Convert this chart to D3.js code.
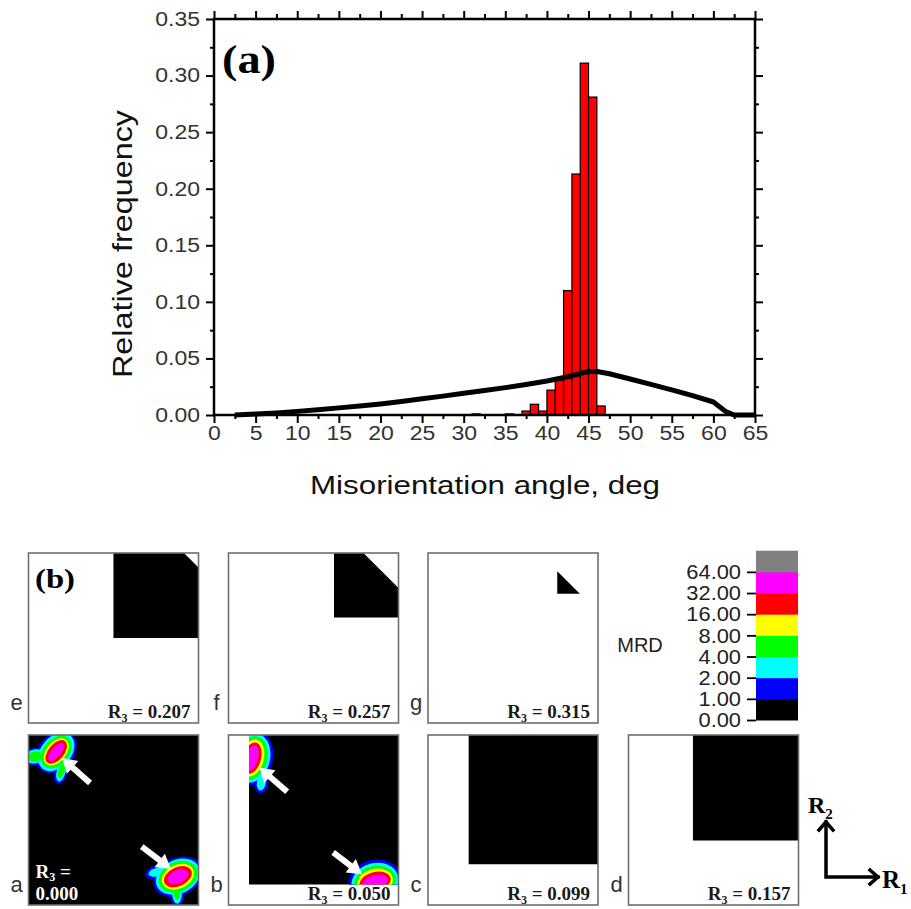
<!DOCTYPE html>
<html lang="en">
<head>
<meta charset="UTF-8">
<title>Misorientation distribution</title>
<script src="https://cdnjs.cloudflare.com/ajax/libs/d3/7.8.5/d3.min.js"></script>
<style>
  body { margin: 0; background: #fff; }
  svg { display: block; }
</style>
</head>
<body>
<svg width="911" height="909"></svg>
<script>
"use strict";

// ---- (a) histogram data
const binStart = [31, 35, 37, 38, 39, 40, 41, 42, 43, 44, 45, 46];
const binFreq = [0.001, 0.001, 0.0035, 0.0095, 0.0035, 0.022, 0.031, 0.110, 0.213, 0.311, 0.281, 0.008];

// random (Mackenzie) curve
const curveAngle = [2.5, 5, 7.5, 10, 12.5, 15, 17.5, 20, 22.5, 25, 27.5, 30, 32.5, 35, 37.5, 40, 42.5, 45, 46, 47.5, 50, 52.5, 55, 57.5, 60, 61.5, 62.5, 65];
const curveFreq = [0, 0.0008, 0.0018, 0.0032, 0.0047, 0.0063, 0.008, 0.0098, 0.012, 0.0143, 0.0167, 0.0192, 0.0216, 0.0242, 0.027, 0.030, 0.0338, 0.0385, 0.0385, 0.0365, 0.0318, 0.027, 0.0222, 0.0172, 0.0115, 0.003, 0, 0];

const xTicks = [0, 5, 10, 15, 20, 25, 30, 35, 40, 45, 50, 55, 60, 65];
const yTicks = [0, 0.05, 0.10, 0.15, 0.20, 0.25, 0.30, 0.35];

// ---- (b) ODF sections
const panelLetters = ["e", "f", "g", "a", "b", "c", "d"];
const panelR3 = [0.207, 0.257, 0.315, 0.000, 0.050, 0.099, 0.157];

const mrdLevels = [0, 1, 2, 4, 8, 16, 32, 64];
const mrdColors = ["#000000", "#0000ff", "#00ffff", "#00ff00", "#ffff00", "#ff0000", "#ff00ff", "#808080"];

// contour patches: semi axes (R units) for MRD levels 1,2,4,8,16,32
const peaks = [
  { panel: "a", r1: 0.0675, r2: 0.373, tilt: 50, major: [0.058, 0.053, 0.045, 0.038, 0.034, 0.027], minor: [0.043, 0.037, 0.031, 0.024, 0.019, 0.012] },
  { panel: "a", r1: 0.080, r2: 0.327, tilt: 75, major: [0.034, 0.027, 0.017], minor: [0.016, 0.011, 0.008] },
  { panel: "a", r1: 0.016, r2: 0.362, tilt: 10, major: [0.030, 0.026, 0.018], minor: [0.021, 0.017, 0.012] },
  { panel: "a", r1: 0.364, r2: 0.069, tilt: 25, major: [0.063, 0.056, 0.049, 0.041, 0.036, 0.027], minor: [0.046, 0.041, 0.036, 0.029, 0.023, 0.016] },
  { panel: "a", r1: 0.362, r2: 0.030, tilt: 90, major: [0.034, 0.027, 0.017], minor: [0.018, 0.012, 0.008] },
  { panel: "a", r1: 0.312, r2: 0.080, tilt: 15, major: [0.028, 0.020], minor: [0.016, 0.010] },
  { panel: "b", r1: 0.057, r2: 0.358, tilt: 75, major: [0.068, 0.061, 0.054, 0.046, 0.039, 0.032], minor: [0.051, 0.044, 0.037, 0.029, 0.022, 0.015] },
  { panel: "b", r1: 0.080, r2: 0.298, tilt: 80, major: [0.026, 0.019], minor: [0.017, 0.011] },
  { panel: "b", r1: 0.357, r2: 0.056, tilt: 15, major: [0.066, 0.058, 0.051, 0.044, 0.039, 0.032], minor: [0.054, 0.046, 0.039, 0.032, 0.024, 0.017] }
];

const arrows = [
  { panel: "a", from: [0.150, 0.297], to: [0.082, 0.358] },
  { panel: "a", from: [0.276, 0.142], to: [0.347, 0.088] },
  { panel: "b", from: [0.143, 0.276], to: [0.075, 0.335] },
  { panel: "b", from: [0.255, 0.128], to: [0.325, 0.075] }
];

const RMAX = Math.SQRT2 - 1;

const SANS = "'Liberation Sans', Arial, sans-serif";
const SERIF = "'Liberation Serif', 'Times New Roman', serif";

const svg = d3.select("svg");
svg.append("rect").attr("width", 911).attr("height", 909).attr("fill", "#fff");

function stretch(sel, k) {
  sel.each(function () {
    const w = this.getComputedTextLength();
    d3.select(this).attr("textLength", w * k).attr("lengthAdjust", "spacingAndGlyphs");
  });
}

// ================= (a) =================
const x = d3.scaleLinear().domain([0, 65]).range([214, 755]);
const y = d3.scaleLinear().domain([0, 0.35]).range([415, 19]);
const gA = svg.append("g");

gA.selectAll("rect.bar")
  .data(binStart)
  .join("rect")
  .attr("class", "bar")
  .attr("x", d => x(d))
  .attr("width", d => x(d + 1) - x(d))
  .attr("y", (d, i) => y(binFreq[i]))
  .attr("height", (d, i) => y(0) - y(binFreq[i]))
  .attr("fill", "#ff0000")
  .attr("stroke", "#000")
  .attr("stroke-width", 1.2);

const line = d3.line().x((d, i) => x(curveAngle[i])).y(d => y(d));
gA.append("path")
  .datum(curveFreq)
  .attr("d", line)
  .attr("fill", "none")
  .attr("stroke", "#000")
  .attr("stroke-width", 5)
  .attr("stroke-linejoin", "round");

const xMinor = xTicks.slice(1).map((v, i) => (v + xTicks[i]) / 2);
const yMinor = yTicks.slice(1).map((v, i) => (v + yTicks[i]) / 2);

function styleAxis(g) {
  g.select(".domain").remove();
  g.selectAll(".tick line").attr("stroke", "#000").attr("stroke-width", 2);
}

gA.append("g").attr("transform", "translate(0,415)")
  .call(d3.axisBottom(x).tickValues(xMinor).tickSize(4).tickFormat("")).call(styleAxis);
gA.append("g").attr("transform", "translate(0,415)")
  .call(d3.axisBottom(x).tickValues(xTicks).tickSize(8).tickPadding(3).tickFormat(d3.format("d")))
  .call(styleAxis)
  .call(g => g.selectAll("text").attr("font-family", SANS).attr("font-size", 20).attr("fill", "#333").call(stretch, 1.15));

gA.append("g").attr("transform", "translate(0,19)")
  .call(d3.axisTop(x).tickValues(xMinor).tickSize(5).tickFormat("")).call(styleAxis);
gA.append("g").attr("transform", "translate(0,19)")
  .call(d3.axisTop(x).tickValues(xTicks).tickSize(8).tickFormat("")).call(styleAxis);

gA.append("g").attr("transform", "translate(214,0)")
  .call(d3.axisLeft(y).tickValues(yMinor).tickSize(4).tickFormat("")).call(styleAxis);
gA.append("g").attr("transform", "translate(214,0)")
  .call(d3.axisLeft(y).tickValues(yTicks).tickSize(8).tickPadding(6).tickFormat(d3.format(".2f")))
  .call(styleAxis)
  .call(g => g.selectAll("text").attr("font-family", SANS).attr("font-size", 20).attr("fill", "#333").call(stretch, 1.15));

gA.append("g").attr("transform", "translate(755,0)")
  .call(d3.axisRight(y).tickValues(yMinor).tickSize(4).tickFormat("")).call(styleAxis);
gA.append("g").attr("transform", "translate(755,0)")
  .call(d3.axisRight(y).tickValues(yTicks).tickSize(8).tickFormat("")).call(styleAxis);

gA.append("rect")
  .attr("x", 214).attr("y", 19).attr("width", 541).attr("height", 396)
  .attr("fill", "none").attr("stroke", "#000").attr("stroke-width", 2.5);

gA.append("text")
  .attr("transform", "translate(132,244) rotate(-90)")
  .attr("text-anchor", "middle")
  .attr("font-family", SANS).attr("font-size", 28).attr("fill", "#111")
  .attr("textLength", 268).attr("lengthAdjust", "spacingAndGlyphs")
  .text("Relative frequency");

gA.append("text")
  .attr("x", 485).attr("y", 494)
  .attr("text-anchor", "middle")
  .attr("font-family", SANS).attr("font-size", 26).attr("fill", "#111")
  .attr("textLength", 350).attr("lengthAdjust", "spacingAndGlyphs")
  .text("Misorientation angle, deg");

gA.append("text")
  .attr("x", 222).attr("y", 73)
  .attr("font-family", SERIF).attr("font-size", 40).attr("font-weight", "bold")
  .attr("textLength", 54).attr("lengthAdjust", "spacingAndGlyphs")
  .text("(a)");

// ================= (b) =================
const SIZE = 170;
const colX = [28.5, 228.5, 428, 628.5];
const rowY = [553, 735];
const panelPos = { e: [0, 0], f: [1, 0], g: [2, 0], a: [0, 1], b: [1, 1], c: [2, 1], d: [3, 1] };

// section of the fundamental zone: R3 <= R1,R2 <= RMAX and R1+R2+R3 <= 1
function zonePolygon(r3) {
  const pts = [[r3, r3], [RMAX, r3], [RMAX, RMAX], [r3, RMAX]];
  const s = 1 - r3;
  const inside = p => p[0] + p[1] <= s;
  const out = [];
  for (let i = 0; i < pts.length; i++) {
    const p = pts[i], q = pts[(i + 1) % pts.length];
    if (inside(p)) out.push(p);
    if (inside(p) !== inside(q)) {
      const t = (s - p[0] - p[1]) / ((q[0] - p[0]) + (q[1] - p[1]));
      out.push([p[0] + t * (q[0] - p[0]), p[1] + t * (q[1] - p[1])]);
    }
  }
  return out;
}

const gB = svg.append("g");
const defs = svg.append("defs");

panelLetters.forEach((name, i) => {
  const r3 = panelR3[i];
  const [c, r] = panelPos[name];
  const x0 = colX[c], y0 = rowY[r];
  const sx = d3.scaleLinear().domain([0, RMAX]).range([x0, x0 + SIZE]);
  const sy = d3.scaleLinear().domain([0, RMAX]).range([y0 + SIZE, y0]);
  const g = gB.append("g");

  g.append("rect").attr("x", x0).attr("y", y0).attr("width", SIZE).attr("height", SIZE).attr("fill", "#fff");

  const poly = zonePolygon(r3);
  const pathStr = "M" + poly.map(p => sx(p[0]) + "," + sy(p[1])).join("L") + "Z";
  g.append("path").attr("d", pathStr).attr("fill", mrdColors[0]);

  defs.append("clipPath").attr("id", "clip-" + name).append("path").attr("d", pathStr);
  const blobs = g.append("g").attr("clip-path", "url(#clip-" + name + ")");
  const mine = peaks.filter(p => p.panel === name);
  for (let k = 0; k < 6; k++) {
    mine.filter(p => p.major.length > k).forEach(p => {
      blobs.append("ellipse")
        .attr("transform", `translate(${sx(p.r1)},${sy(p.r2)}) rotate(${-p.tilt})`)
        .attr("rx", sx(p.major[k]) - sx(0))
        .attr("ry", sx(p.minor[k]) - sx(0))
        .attr("fill", mrdColors[k + 1]);
    });
  }

  arrows.filter(a => a.panel === name).forEach(a => {
    const tx = sx(a.from[0]), ty = sy(a.from[1]);
    const hx = sx(a.to[0]), hy = sy(a.to[1]);
    const L = Math.hypot(hx - tx, hy - ty);
    const ux = (hx - tx) / L, uy = (hy - ty) / L;
    const nx = -uy, ny = ux;
    const hw = 3, hl = 14, hh = 8.5;
    const bx = hx - ux * hl, by = hy - uy * hl;
    const pts = [
      [tx + nx * hw, ty + ny * hw], [bx + nx * hw, by + ny * hw], [bx + nx * hh, by + ny * hh],
      [hx, hy], [bx - nx * hh, by - ny * hh], [bx - nx * hw, by - ny * hw], [tx - nx * hw, ty - ny * hw]
    ];
    g.append("polygon").attr("points", pts.map(p => p.join(",")).join(" ")).attr("fill", "#fff");
  });

  g.append("rect").attr("x", x0).attr("y", y0).attr("width", SIZE).attr("height", SIZE)
    .attr("fill", "none").attr("stroke", "#6e6e6e").attr("stroke-width", 1.6);

  // panel letter
  g.append("text")
    .attr("x", x0 - 12).attr("y", y0 + SIZE - 13.5)
    .attr("text-anchor", "middle")
    .attr("font-family", SANS).attr("font-size", 22).attr("fill", "#333")
    .text(name);

  // R3 label
  if (name === "a") {
    const t = g.append("text")
      .attr("x", x0 + 7).attr("y", y0 + SIZE - 27)
      .attr("font-family", SERIF).attr("font-size", 19).attr("font-weight", "bold").attr("fill", "#fff");
    t.append("tspan").text("R");
    t.append("tspan").attr("font-size", 12).attr("dy", 3).text("3");
    t.append("tspan").attr("dy", -3).text(" =");
    g.append("text")
      .attr("x", x0 + 7).attr("y", y0 + SIZE - 5)
      .attr("font-family", SERIF).attr("font-size", 19).attr("font-weight", "bold").attr("fill", "#fff")
      .text(d3.format(".3f")(r3));
  } else {
    const t = g.append("text")
      .attr("x", x0 + SIZE - 8).attr("y", y0 + SIZE - 5.5)
      .attr("text-anchor", "end")
      .attr("font-family", SERIF).attr("font-size", 19).attr("font-weight", "bold").attr("fill", "#1a1a1a");
    t.append("tspan").text("R");
    t.append("tspan").attr("font-size", 12).attr("dy", 4).text("3");
    t.append("tspan").attr("dy", -4).text(" = " + d3.format(".3f")(r3));
  }
});

gB.append("text")
  .attr("x", 35).attr("y", 588)
  .attr("font-family", SERIF).attr("font-size", 27).attr("font-weight", "bold")
  .attr("textLength", 40).attr("lengthAdjust", "spacingAndGlyphs")
  .text("(b)");

// colour bar
const cbY = d3.scaleLinear().domain([0, mrdColors.length]).range([720, 550.7]);
const cb = svg.append("g");
cb.selectAll("rect")
  .data(mrdColors)
  .join("rect")
  .attr("x", 756).attr("width", 42)
  .attr("y", (d, i) => cbY(i + 1))
  .attr("height", (d, i) => cbY(i) - cbY(i + 1) + 0.5)
  .attr("fill", d => d);
cb.append("g").attr("transform", "translate(756,0)")
  .call(d3.axisLeft(cbY).tickValues(d3.range(mrdLevels.length)).tickSize(9).tickPadding(6)
    .tickFormat(i => d3.format(".2f")(mrdLevels[i])))
  .call(styleAxis)
  .call(g => g.selectAll(".tick line").attr("stroke-width", 1.8))
  .call(g => g.selectAll("text").attr("font-family", SANS).attr("font-size", 21).attr("fill", "#222").call(stretch, 1.04));
cb.append("text")
  .attr("x", 640).attr("y", 652)
  .attr("text-anchor", "middle")
  .attr("font-family", SANS).attr("font-size", 20).attr("fill", "#222")
  .text("MRD");

// R1 / R2 direction key
const key = svg.append("g").attr("stroke", "#000").attr("stroke-width", 3.5).attr("fill", "none")
  .attr("stroke-linecap", "square");
key.append("path").attr("d", "M826,877 L826,822 M878,877 L826,877");
key.append("path").attr("d", "M819,830 L826,822 L833,830");
key.append("path").attr("d", "M870,870 L878,877 L870,884");

const r2 = svg.append("text").attr("x", 808).attr("y", 813)
  .attr("font-family", SERIF).attr("font-size", 24).attr("font-weight", "bold");
r2.append("tspan").text("R");
r2.append("tspan").attr("font-size", 15).attr("dy", 6).text("2");
const r1 = svg.append("text").attr("x", 882).attr("y", 888)
  .attr("font-family", SERIF).attr("font-size", 25).attr("font-weight", "bold");
r1.append("tspan").text("R");
r1.append("tspan").attr("font-size", 15).attr("dy", 6).text("1");
</script>
</body>
</html>
